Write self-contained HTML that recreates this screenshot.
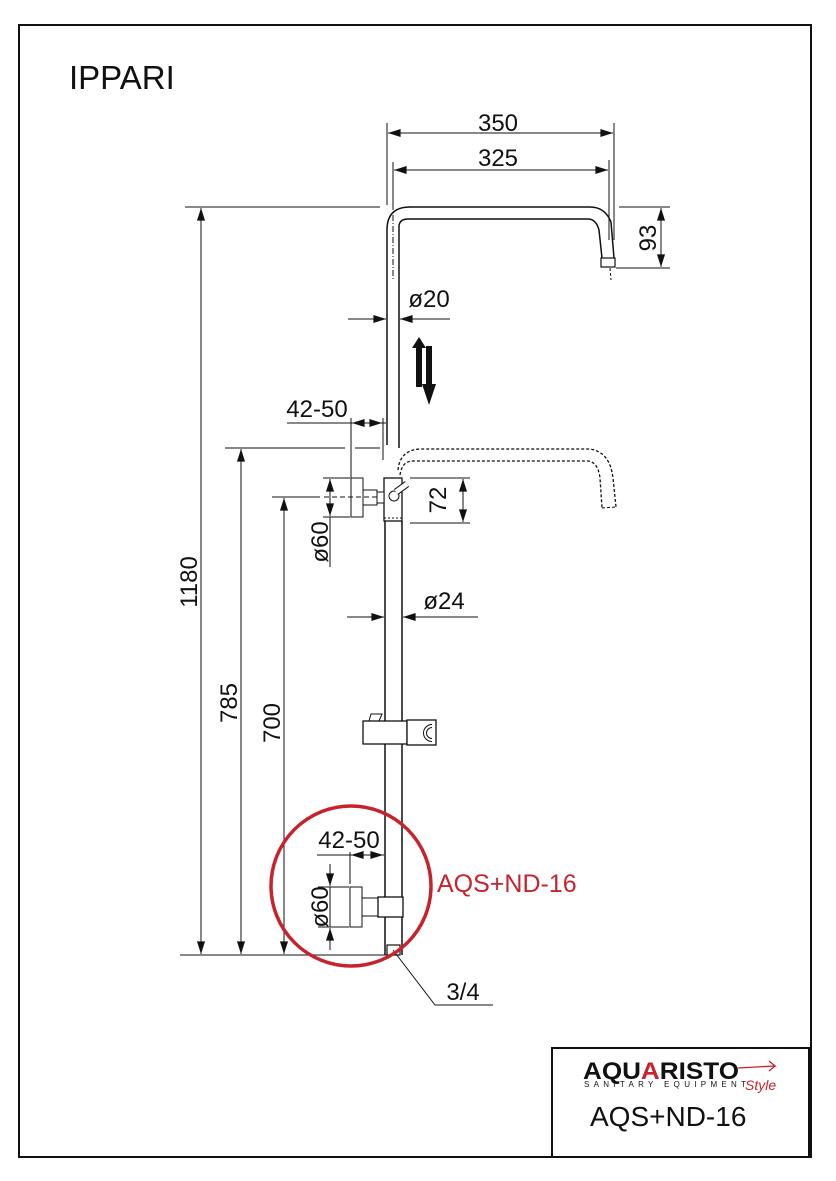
<!DOCTYPE html>
<html><head><meta charset="utf-8"><style>
html,body{margin:0;padding:0;background:#fff;}
svg{display:block;}
text{font-family:"Liberation Sans",sans-serif;fill:#111;}
</style></head><body>
<svg width="836" height="1181" viewBox="0 0 836 1181" xmlns="http://www.w3.org/2000/svg">
<defs>
<marker id="a" viewBox="0 0 14 10" refX="14" refY="5" markerWidth="14" markerHeight="9" orient="auto-start-reverse" markerUnits="userSpaceOnUse"><path d="M0,0.5 L14,5 L0,9.5 Z" fill="#111"/></marker>
</defs>
<rect x="19" y="25" width="792" height="1132" fill="none" stroke="#111" stroke-width="2"/>
<text x="69" y="89" font-size="33">IPPARI</text>

<g stroke="#111" stroke-width="1" fill="none">
<line x1="387" y1="123" x2="387" y2="205"/>
<line x1="614" y1="123" x2="614" y2="240"/>
<line x1="388" y1="133" x2="613" y2="133" marker-start="url(#a)" marker-end="url(#a)"/>
<line x1="393" y1="162" x2="393" y2="210"/>
<line x1="609" y1="160" x2="609" y2="240"/>
<line x1="394" y1="170" x2="608" y2="170" marker-start="url(#a)" marker-end="url(#a)"/>
<line x1="619" y1="207" x2="670" y2="207"/>
<line x1="616" y1="268" x2="670" y2="268"/>
<line x1="661" y1="208" x2="661" y2="267" marker-start="url(#a)" marker-end="url(#a)"/>
<path d="M387,445 L387,230 Q387,207 410,207 L590,207 Q605,207 611,222 L614,258" stroke-width="1.5"/>
<path d="M399,448 L399,227 Q399,219 408,219 L588,219 Q596,219 599,230 L602,258" stroke-width="1.5"/>
<rect x="601" y="258" width="14" height="9" stroke-width="1.2"/>
<line x1="393" y1="215" x2="393" y2="280" stroke-dasharray="6,2,1,2"/>
<line x1="610" y1="268" x2="611" y2="280" stroke-dasharray="3,2"/>
<line x1="348" y1="319" x2="386" y2="319" marker-end="url(#a)"/>
<line x1="450" y1="319" x2="400" y2="319" marker-end="url(#a)"/>
<path d="M398,470 Q400,450 420,449 L590,449 Q610,452 613,478 L616,507" stroke-dasharray="3,2" stroke-width="1.3"/>
<path d="M400,475 Q402,461 413,461 L588,461 Q598,462 600,478 L602,508" stroke-dasharray="3,2" stroke-width="1.3"/>
<line x1="602" y1="508" x2="616" y2="507" stroke-dasharray="3,2"/>
<line x1="287" y1="423" x2="386" y2="423"/>
<line x1="351" y1="418" x2="351" y2="478"/>
<line x1="383" y1="418" x2="383" y2="460"/>
<line x1="352" y1="423" x2="368" y2="423" marker-start="url(#a)"/>
<line x1="366" y1="423" x2="382" y2="423" marker-end="url(#a)"/>
<line x1="185" y1="207" x2="380" y2="207"/>
<line x1="225" y1="448" x2="345" y2="448"/>
<line x1="355" y1="448" x2="380" y2="448"/>
<line x1="272" y1="497" x2="320" y2="497"/>
<line x1="180" y1="955" x2="388" y2="955"/>
<line x1="201" y1="208" x2="201" y2="954" marker-start="url(#a)" marker-end="url(#a)"/>
<line x1="241" y1="449" x2="241" y2="954" marker-start="url(#a)" marker-end="url(#a)"/>
<line x1="284" y1="498" x2="284" y2="954" marker-start="url(#a)" marker-end="url(#a)"/>
<rect x="384" y="478" width="18" height="43" stroke-width="1.3"/>
<line x1="384" y1="518" x2="402" y2="518" stroke-dasharray="2,2"/>
<circle cx="394" cy="496" r="5"/>
<line x1="396" y1="492" x2="407" y2="484" stroke-width="7" stroke="#111"/>
<line x1="396" y1="492" x2="407" y2="484" stroke-width="5" stroke="#fff"/>
<rect x="351" y="478" width="12" height="39" fill="#fff"/>
<rect x="363" y="490" width="14" height="15" fill="#fff"/>
<rect x="377" y="492" width="7" height="11" fill="#fff"/>
<line x1="324" y1="497" x2="377" y2="497" stroke-dasharray="5,3"/>
<line x1="323" y1="478" x2="350" y2="478"/>
<line x1="323" y1="517" x2="350" y2="517"/>
<line x1="330" y1="479" x2="330" y2="516" marker-start="url(#a)" marker-end="url(#a)"/>
<line x1="330" y1="517" x2="330" y2="567"/>
<line x1="410" y1="478" x2="470" y2="478"/>
<line x1="410" y1="523" x2="470" y2="523"/>
<line x1="463" y1="479" x2="463" y2="522" marker-start="url(#a)" marker-end="url(#a)"/>
<line x1="385" y1="521" x2="385" y2="955" stroke-width="1.5"/>
<line x1="402" y1="521" x2="402" y2="955" stroke-width="1.5"/>
<line x1="347" y1="617" x2="384" y2="617" marker-end="url(#a)"/>
<line x1="478" y1="617" x2="403" y2="617" marker-end="url(#a)"/>
<rect x="363" y="721" width="44" height="23" fill="#fff" stroke-width="1.3"/>
<path d="M369,721 L371,714 L382,714 L379,721" />
<rect x="407" y="720" width="29" height="25" fill="#fff" stroke-width="1.3"/>
<path d="M432,726 A7,7 0 1 0 432,740" stroke-width="4"/>
<path d="M432,726 A7,7 0 1 0 432,740" stroke-width="2" stroke="#fff"/>
<rect x="350" y="887" width="12" height="40" fill="#fff"/>
<rect x="362" y="898" width="16" height="18" fill="#fff"/>
<rect x="378" y="897" width="25" height="20" fill="#fff" stroke-width="1.3"/>
<line x1="318" y1="887" x2="349" y2="887"/>
<line x1="318" y1="927" x2="349" y2="927"/>
<line x1="330" y1="864" x2="330" y2="886" marker-end="url(#a)"/>
<line x1="330" y1="950" x2="330" y2="928" marker-end="url(#a)"/>
<line x1="330" y1="887" x2="330" y2="927"/>
<line x1="350" y1="852" x2="350" y2="884"/>
<line x1="317" y1="855" x2="384" y2="855"/>
<line x1="351" y1="855" x2="368" y2="855" marker-start="url(#a)"/>
<line x1="366" y1="855" x2="383" y2="855" marker-end="url(#a)"/>
<rect x="387" y="945" width="13" height="10" stroke-width="1.2"/>
<polyline points="393,950 435,1005 493,1005"/>
</g>
<path d="M419,337 L426,348 L422,348 L422,387 L416,387 L416,348 L412,348 Z" fill="#111"/>
<path d="M429,405 L436,384 L432,384 L432,346 L426,346 L426,384 L422,384 Z" fill="#111"/>

<g font-size="24" text-anchor="middle">
<text x="498" y="131">350</text>
<text x="498" y="166">325</text>
<text x="429" y="307">ø20</text>
<text x="317" y="417">42-50</text>
<text x="444" y="609">ø24</text>
<text x="349" y="848">42-50</text>
<text x="463" y="1000">3/4</text>
<text transform="translate(656,238) rotate(-90)">93</text>
<text transform="translate(446,500) rotate(-90)">72</text>
<text transform="translate(328,542) rotate(-90)">ø60</text>
<text transform="translate(328,907) rotate(-90)">ø60</text>
<text transform="translate(197,582) rotate(-90)">1180</text>
<text transform="translate(237,703) rotate(-90)">785</text>
<text transform="translate(280,723) rotate(-90)">700</text>
</g>
<text x="437" y="892" font-size="25" style="fill:#c8232c">AQS+ND-16</text>

<circle cx="351" cy="886" r="80" fill="none" stroke="#c8232c" stroke-width="3.5"/>

<rect x="552" y="1048" width="257" height="109" fill="none" stroke="#111" stroke-width="2"/>
<text x="583" y="1079" font-size="24" font-weight="bold" textLength="156" lengthAdjust="spacingAndGlyphs">AQU<tspan style="fill:#c8232c">A</tspan>RISTO</text>
<text x="584" y="1087" font-size="8" textLength="162" lengthAdjust="spacing">SANITARY EQUIPMENT</text>
<text x="745" y="1090" font-size="14" font-style="italic" style="fill:#c8232c">Style</text>
<path d="M738,1068 L775,1066 L769,1061 M775,1066 L769,1071" stroke="#c8232c" fill="none" stroke-width="1.3"/>
<text x="590" y="1126" font-size="28">AQS+ND-16</text>
</svg>
</body></html>
